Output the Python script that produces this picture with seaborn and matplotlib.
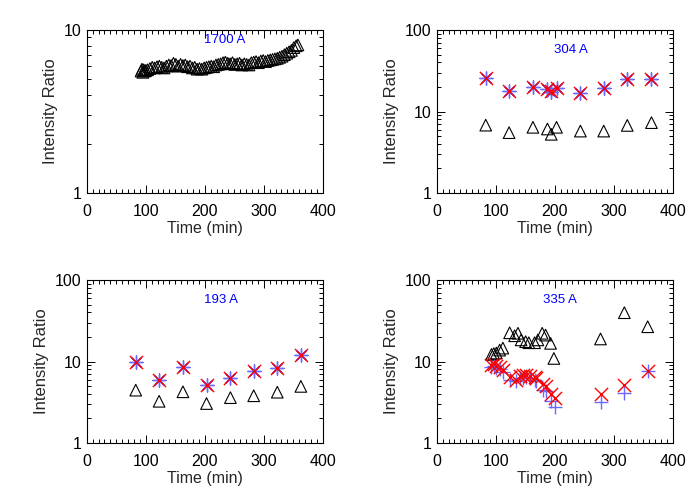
import numpy as np
import pandas as pd
import matplotlib
matplotlib.use("Agg")
import matplotlib.pyplot as plt
import matplotlib.ticker as mticker
import seaborn as sns

# ---- data ----
t_1700 = [92, 93.5, 95, 96.5, 98, 100, 103, 107, 111, 115, 119, 123, 127, 131, 135, 139,
          143, 147, 151, 155, 159, 163, 167, 171, 175, 179, 183, 187, 191, 195, 199, 203,
          207, 211, 215, 219, 223, 227, 231, 235, 239, 243, 247, 251, 255, 259, 263, 267,
          271, 275, 279, 283, 287, 291, 295, 299, 303, 307, 311, 315, 319, 323, 327, 331,
          335, 339, 343, 347, 351, 355, 358]
tri_1700 = [5.6, 5.75, 5.5, 5.7, 5.6, 5.65, 5.7, 5.8, 5.9, 5.85, 5.95, 6.0, 5.9, 5.85, 6.0, 6.1,
            6.05, 6.25, 6.15, 6.0, 6.15, 6.05, 6.1, 5.95, 6.0, 5.85, 5.9, 5.75, 5.8, 5.75, 5.85, 5.9,
            5.95, 6.0, 5.95, 6.1, 6.15, 6.2, 6.3, 6.35, 6.25, 6.2, 6.3, 6.15, 6.2, 6.25, 6.1, 6.2,
            6.15, 6.1, 6.3, 6.35, 6.4, 6.3, 6.45, 6.5, 6.4, 6.5, 6.55, 6.6, 6.65, 6.7, 6.8, 6.9,
            7.05, 7.2, 7.35, 7.5, 7.8, 8.0, 8.1]

t_304 = [83, 122.6, 163, 187.6, 194, 203, 243.5, 283, 323, 364]
tri_304 = [6.8, 5.5, 6.4, 6.1, 5.25, 6.4, 5.75, 5.75, 6.75, 7.3]
red_304 = [25.5, 18.0, 19.8, 18.7, 17.8, 19.6, 16.7, 19.2, 25.0, 25.3]
blue_304 = [25.5, 18.0, 19.8, 18.7, 17.3, 19.6, 16.7, 19.2, 25.0, 25.3]

t_193 = [83, 122.6, 163, 203, 243.5, 283, 323, 363]
tri_193 = [4.45, 3.25, 4.25, 3.05, 3.6, 3.8, 4.2, 4.95]
red_193 = [9.8, 5.9, 8.6, 5.1, 6.3, 7.7, 8.25, 12.0]
blue_193 = [9.8, 5.9, 8.6, 5.1, 6.3, 7.7, 8.25, 12.0]

t_335_tri = [92.7, 96.6, 101, 106.6, 112, 123.5, 132, 137.6, 143, 150.6, 156, 165.8, 171.4,
             178.7, 184.4, 192.9, 198.5, 277.6, 318, 357.6]
tri_335 = [12.2, 12.5, 12.7, 13.8, 14.6, 22.5, 20.7, 22.2, 18.4, 17.5, 17.0, 17.0, 18.4,
           22.2, 21.1, 16.7, 10.9, 18.9, 39.7, 26.7]
t_335 = [91.6, 96.6, 101, 106.6, 112, 124.6, 134.8, 140.4, 146, 151.7, 157.3, 165.8, 168.6,
         179.9, 184.4, 194, 199.6, 277.6, 318, 357.6]
red_335 = [9.05, 9.3, 8.8, 8.65, 7.85, 6.4, 5.9, 6.6, 6.8, 6.8, 6.6, 6.4, 6.2,
           5.3, 5.0, 4.0, 3.55, 4.0, 5.15, 7.6]
blue_335 = [8.6, 8.8, 8.4, 8.0, 7.5, 6.0, 5.7, 6.2, 6.3, 6.4, 6.2, 5.9, 5.7,
            4.5, 4.3, 3.25, 2.8, 3.2, 4.1, 7.6]

labels = ["1700 A", "304 A", "193 A", "335 A"]

# ---- style ----
sns.set_style("ticks")
plt.rcParams['font.family'] = ['Liberation Sans', 'DejaVu Sans']
plt.rcParams['axes.linewidth'] = 0.8

fig = plt.figure(figsize=(7, 5), dpi=100)
W, H = 0.337, 0.326
positions = [[0.124, 0.614, W, H], [0.624, 0.614, W, H],
             [0.124, 0.114, W, H], [0.624, 0.114, W, H]]

RED = "#ff0000"
BLUE = "#6a6aff"
TRI_S = 70
STAR_S = 90


def style_axis(ax, ymax):
    ax.set_xlim(0, 400)
    ax.set_yscale("log")
    ax.set_ylim(1, ymax)
    ax.xaxis.set_major_locator(mticker.MultipleLocator(100))
    ax.xaxis.set_minor_locator(mticker.MultipleLocator(10))
    ax.yaxis.set_major_locator(mticker.LogLocator(base=10))
    ax.yaxis.set_minor_locator(mticker.LogLocator(base=10, subs=np.arange(2, 10)))
    ax.yaxis.set_major_formatter(mticker.FuncFormatter(lambda v, p: f"{v:g}"))
    ax.yaxis.set_minor_formatter(mticker.NullFormatter())
    ax.tick_params(which="both", direction="in", top=True, right=True,
                   labelsize=11.5, colors="black", width=0.7)
    ax.tick_params(which="major", length=6)
    ax.tick_params(which="minor", length=3)
    ax.tick_params(axis="x", which="major", pad=8)
    ax.tick_params(axis="y", which="major", pad=4)
    ax.set_xlabel("Time (min)", fontsize=11.5, labelpad=1)
    ax.set_ylabel("Intensity Ratio", fontsize=12, labelpad=4)
    for s in ax.spines.values():
        s.set_visible(True)
        s.set_color("black")


def tri(ax, x, y):
    sns.scatterplot(x=x, y=y, ax=ax, marker="^", s=TRI_S, facecolors="none",
                    edgecolors="black", linewidth=0.8, zorder=3)


def stars(ax, x, yb, yr, bmarker):
    sns.scatterplot(x=x, y=yb, ax=ax, marker=bmarker, s=STAR_S, color=BLUE,
                    linewidth=1.0, zorder=4)
    sns.scatterplot(x=x, y=yr, ax=ax, marker="x", s=STAR_S, color=RED,
                    linewidth=1.0, zorder=5)


axes = [fig.add_axes(p) for p in positions]

tri(axes[0], t_1700, tri_1700)
style_axis(axes[0], 10)

tri(axes[1], t_304, tri_304)
stars(axes[1], t_304, blue_304, red_304, (8, 2, 0))
style_axis(axes[1], 100)

tri(axes[2], t_193, tri_193)
stars(axes[2], t_193, blue_193, red_193, (8, 2, 0))
style_axis(axes[2], 100)

tri(axes[3], t_335_tri, tri_335)
stars(axes[3], t_335, blue_335, red_335, "+")
style_axis(axes[3], 100)

label_pos = [(0.585, 0.94), (0.57, 0.88), (0.57, 0.88), (0.52, 0.88)]
for ax, lab, (lx, ly) in zip(axes, labels, label_pos):
    ax.text(lx, ly, lab, transform=ax.transAxes, color="blue", fontsize=9.5,
            ha="center", va="center")

fig.savefig("out.png", dpi=100)
